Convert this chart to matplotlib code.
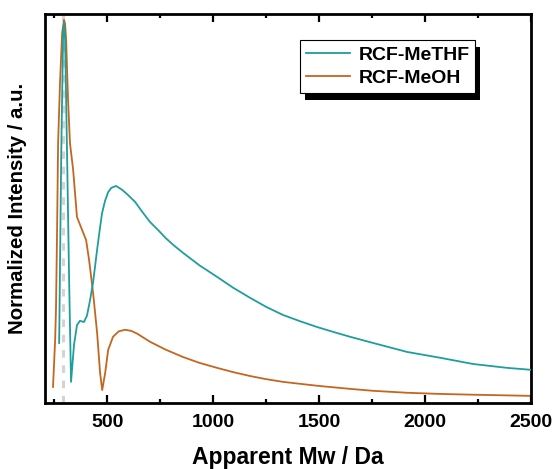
import numpy as np
import matplotlib
matplotlib.use('Agg')
import matplotlib.pyplot as plt
from matplotlib.patches import Rectangle
from matplotlib.transforms import IdentityTransform
from matplotlib.ticker import MultipleLocator

plt.rcParams['font.family'] = ['Liberation Sans', 'DejaVu Sans']
plt.rcParams['font.weight'] = 'bold'

# values (normalized intensity vs apparent Mw)
mw_methf = [274, 284, 293, 297, 302, 311, 321, 330, 344, 358, 372, 391, 405,
            420, 434, 453, 467, 476, 490, 505, 520, 542, 571, 600, 632, 665,
            703, 740, 776, 815, 858, 935, 1019, 1095, 1175, 1250, 1330, 1410,
            1491, 1570, 1646, 1755, 1915, 2071, 2226, 2387, 2500]
int_methf = [0.154, 0.650, 0.959, 0.979, 0.933, 0.650, 0.316, 0.054, 0.149,
             0.200, 0.211, 0.208, 0.224, 0.265, 0.310, 0.394, 0.452, 0.487,
             0.519, 0.542, 0.553, 0.558, 0.548, 0.534, 0.517, 0.492,
             0.465, 0.445, 0.424, 0.405, 0.386, 0.354, 0.324, 0.296, 0.270,
             0.247, 0.226, 0.210, 0.195, 0.182, 0.170, 0.154, 0.131, 0.116,
             0.100, 0.090, 0.085]

mw_meoh = [245, 255, 259, 264, 269, 278, 288, 297, 302, 307, 311, 316, 325,
           340, 358, 382, 401, 415, 434, 453, 467, 477, 491, 505, 528, 555,
           585, 615, 642, 703, 776, 858, 935, 1019, 1095, 1175, 1250, 1330,
           1491, 1646, 1755, 1915, 2071, 2226, 2500]
int_meoh = [0.041, 0.162, 0.239, 0.437, 0.668, 0.823, 0.951, 0.985, 0.975,
            0.933, 0.860, 0.779, 0.668, 0.599, 0.478, 0.445, 0.419, 0.368,
            0.283, 0.180, 0.077, 0.033, 0.077, 0.136, 0.170, 0.184, 0.188,
            0.185, 0.178, 0.157, 0.137, 0.118, 0.103, 0.090, 0.079, 0.069,
            0.061, 0.054, 0.044, 0.036, 0.031, 0.026, 0.023, 0.021, 0.018]

ref_mw = 293  # grey dashed marker line
labels = ['RCF-MeTHF', 'RCF-MeOH']
colors = ['#1f9e9b', '#c4661f']

fig = plt.figure(figsize=(5.55, 4.69), dpi=100)
ax = fig.add_axes([0.081, 0.141, 0.876, 0.829])

ax.axvline(ref_mw, color='#d4d4d4', lw=2.2, ls=(0, (2.5, 2.5)), zorder=1)
ax.plot(mw_methf, int_methf, color=colors[0], lw=1.3, label=labels[0], zorder=3)
ax.plot(mw_meoh, int_meoh, color=colors[1], lw=1.3, label=labels[1], zorder=2)

ax.set_xlim(207, 2500)
ax.set_ylim(0, 1.0)
ax.xaxis.set_major_locator(MultipleLocator(500))
ax.xaxis.set_minor_locator(MultipleLocator(250))
ax.set_yticks([])
ax.tick_params(axis='x', which='both', direction='in', top=True, width=1.6,
               labelsize=14, pad=8)
ax.tick_params(axis='x', which='major', length=6)
ax.tick_params(axis='x', which='minor', length=3)
for lab in ax.get_xticklabels():
    lab.set_fontweight('bold')
for sp in ax.spines.values():
    sp.set_linewidth(2)

ax.set_xlabel('Apparent Mw / Da', fontsize=16.5, fontweight='bold', labelpad=11)
ax.set_ylabel('Normalized Intensity / a.u.', fontsize=14.7, fontweight='bold',
              labelpad=13)

leg = ax.legend(loc='upper right', bbox_to_anchor=(0.885, 0.933), fontsize=14,
                frameon=True, fancybox=False, framealpha=1, edgecolor='black',
                handlelength=2.3, borderpad=0.3, labelspacing=0.3,
                handletextpad=0.4, borderaxespad=0)
leg.get_frame().set_linewidth(0.8)
for t in leg.get_texts():
    t.set_fontweight('bold')

# solid black drop shadow behind the legend box
fig.canvas.draw()
bb = leg.get_window_extent()
ax.add_patch(Rectangle((bb.x0 + 5, bb.y0 - 7), bb.width, bb.height,
                       transform=IdentityTransform(), facecolor='black',
                       edgecolor='none', zorder=4.5, clip_on=False))

fig.savefig('out.png', dpi=100)
